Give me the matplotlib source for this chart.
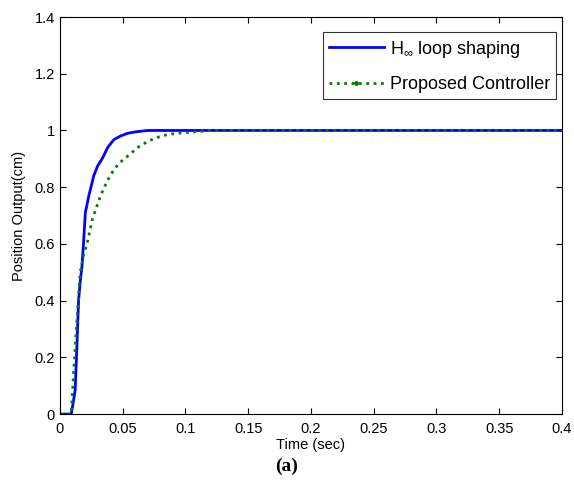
import matplotlib
matplotlib.use("Agg")
import matplotlib.pyplot as plt
from matplotlib.lines import Line2D

# step responses (time in sec, output in cm)
t_hinf = [0.0, 0.009, 0.0105, 0.0121, 0.0135, 0.0148, 0.0162, 0.0175, 0.019,
          0.0202, 0.023, 0.0269, 0.030, 0.0336, 0.038, 0.043, 0.048, 0.0538,
          0.060, 0.070, 0.4]
y_hinf = [0.0, 0.0, 0.04, 0.085, 0.24, 0.40, 0.47, 0.52, 0.62,
          0.71, 0.77, 0.84, 0.875, 0.90, 0.94, 0.968, 0.98, 0.99,
          0.995, 1.0, 1.0]

t_prop = [0.0, 0.009, 0.0108, 0.0135, 0.0161, 0.0188, 0.0215, 0.026, 0.0323,
          0.038, 0.043, 0.048, 0.0538, 0.062, 0.070, 0.078, 0.086, 0.098,
          0.11, 0.12, 0.4]
y_prop = [0.0, 0.0, 0.144, 0.33, 0.50, 0.56, 0.60, 0.69, 0.77,
          0.825, 0.862, 0.888, 0.909, 0.94, 0.962, 0.976, 0.986, 0.992,
          0.996, 1.0, 1.0]

plt.rcParams["font.family"] = ["Liberation Sans", "DejaVu Sans"]
plt.rcParams["mathtext.fontset"] = "custom"
plt.rcParams["mathtext.rm"] = "Liberation Sans"

fig = plt.figure(figsize=(5.74, 4.93), dpi=100)
ax = fig.add_axes([0.1045, 0.160, 0.8745, 0.8055])

ax.plot(t_hinf, y_hinf, "-", color="#0000ff", lw=2.0)
ax.plot(t_prop, y_prop, ":", color="#008000", lw=2.0)

ax.set_xlim(0, 0.4)
ax.set_ylim(0, 1.4)
ax.set_xticks([0, 0.05, 0.1, 0.15, 0.2, 0.25, 0.3, 0.35, 0.4])
ax.set_xticklabels(["0", "0.05", "0.1", "0.15", "0.2", "0.25", "0.3", "0.35", "0.4"])
ax.set_yticks([0, 0.2, 0.4, 0.6, 0.8, 1, 1.2, 1.4])
ax.set_yticklabels(["0", "0.2", "0.4", "0.6", "0.8", "1", "1.2", "1.4"])
ax.tick_params(direction="in", top=True, right=True, labelsize=10.5,
               length=4, width=0.8)
ax.tick_params(axis="x", pad=6)
for s in ax.spines.values():
    s.set_linewidth(0.8)
ax.set_xlabel("Time (sec)", fontsize=10.5, labelpad=1)
ax.set_ylabel("Position Output(cm)", fontsize=10.5, labelpad=6)

handles = [Line2D([], [], color="#0000ff", lw=2.0, ls="-"),
           Line2D([], [], color="#008000", lw=2.0, ls=":", marker=".",
                  markersize=5, markevery=[1])]
handles[1].set_data([0, 0.5, 1], [0, 0, 0])
leg = ax.legend(handles, [r"H$_{\infty}\;$loop shaping", "Proposed Controller"],
                loc="upper right", fontsize=13, frameon=True, fancybox=False,
                edgecolor="black", borderpad=0.35, handlelength=3.0,
                handletextpad=0.35, labelspacing=0.9, borderaxespad=0,
                bbox_to_anchor=(0.989, 0.961))
leg.get_frame().set_linewidth(0.8)

fig.text(0.5, 0.055, "(a)", ha="center", va="center", fontsize=14,
         fontweight="bold", family="Liberation Serif")

fig.savefig("out.png", dpi=100)
